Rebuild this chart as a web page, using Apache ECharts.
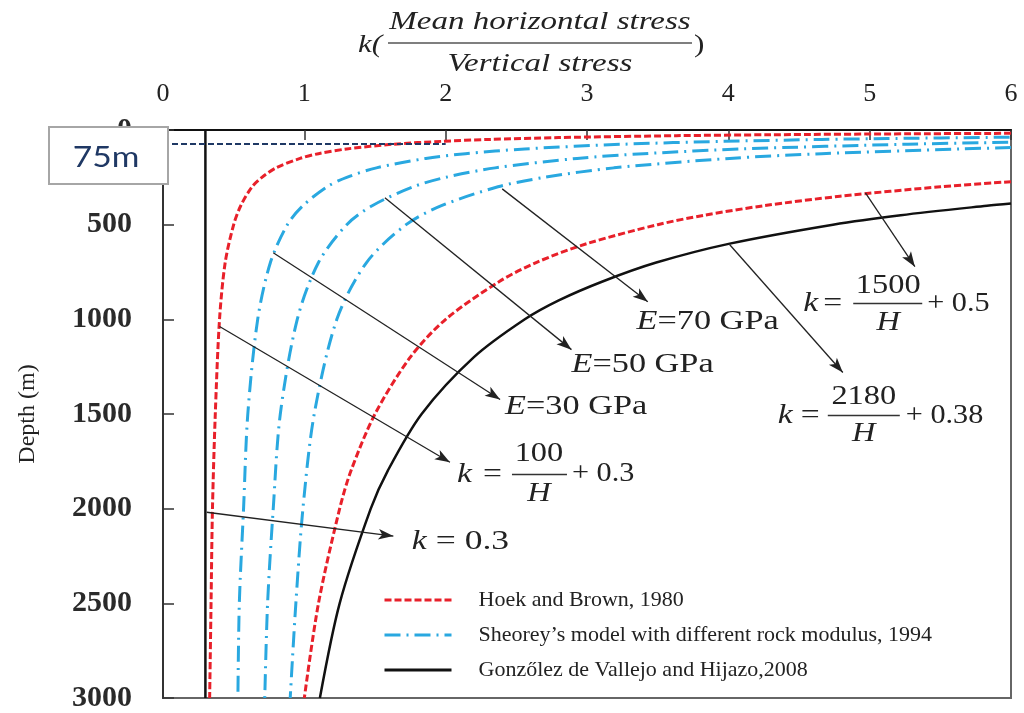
<!DOCTYPE html>
<html><head><meta charset="utf-8">
<script src="https://cdn.jsdelivr.net/npm/echarts@6/dist/echarts.min.js"></script>
<style>html,body{margin:0;padding:0;background:#fff}#c{width:1024px;height:713px}</style>
</head><body><div id="c"></div>
<script>
// ---- data: [k, depth(m)] ----
const hoekLowDepth = [17.5,20,25,30,40,50,60,75,100,125,150,200,250,300,400,500,700,1000,1500,2000,2500,3000];
const hoekLowK     = [6.0,5.3,4.3,3.63,2.8,2.3,1.97,1.63,1.3,1.1,0.97,0.8,0.7,0.63,0.55,0.5,0.44,0.4,0.37,0.35,0.34,0.33];
const hoekUpDepth  = [273,300,350,400,450,500,600,700,800,1000,1200,1500,1800,2000,2500,3000];
const hoekUpK      = [6.0,5.5,4.79,4.25,3.83,3.5,3.0,2.64,2.38,2.0,1.75,1.5,1.33,1.25,1.1,1.0];
const gonzDepth    = [388,400,450,500,600,700,800,900,1000,1200,1500,1800,2000,2500,3000];
const gonzK        = [6.0,5.83,5.22,4.74,4.01,3.49,3.11,2.80,2.56,2.20,1.83,1.59,1.47,1.25,1.11];
const e30Depth     = [38,45,50,60,75,100,125,150,200,250,300,400,500,700,1000,1500,2000,2500,3000];
const e30K         = [5.99,5.13,4.66,3.96,3.26,2.56,2.14,1.86,1.51,1.30,1.16,0.99,0.88,0.76,0.67,0.60,0.57,0.54,0.53];
const e50Depth     = [65,75,100,125,150,200,250,300,400,500,700,1000,1500,2000,2500,3000];
const e50K         = [5.98,5.27,4.10,3.40,2.93,2.35,2.00,1.77,1.48,1.30,1.10,0.95,0.83,0.78,0.74,0.72];
const e70Depth     = [93,100,125,150,200,250,300,400,500,700,1000,1500,2000,2500,3000];
const e70K         = [6.0,5.64,4.66,4.01,3.19,2.70,2.37,1.97,1.72,1.44,1.23,1.07,0.99,0.94,0.90];
const minDepth     = [0,3000];
const minK         = [0.3,0.3];
const markDepth    = 75;       // 75 m reference line
const markK        = [0,2];
const legendNames  = ['Hoek and Brown, 1980', 'Sheorey\u2019s model with different rock modulus, 1994', 'Gonz\u0151lez de Vallejo and Hijazo,2008'];
// annotation arrows: [kFrom, depthFrom, kTo, depthTo]
const arrows = [
  [4.97,332,5.32,722],
  [4.01,606,4.81,1281],
  [2.40,311,3.43,907],
  [1.57,358,2.89,1160],
  [0.78,648,2.385,1423],
  [0.40,1038,2.03,1755],
  [0.31,2019,1.63,2145]
];

const zip = (k, d) => k.map((v, i) => [v, d[i]]);
const RED = '#e8202a', BLUE = '#29a8e0', BLACK = '#111';
const serif = '"Liberation Serif","DejaVu Serif",serif';

const chart = echarts.init(document.getElementById('c'));
const redStyle = {color: RED, width: 3, type: [7, 3]};
const blueStyle = {color: BLUE, width: 3, type: [16, 6, 2, 6]};
function ln(name, data, ls, extra) {
  return Object.assign({type: 'line', name, data, symbol: 'none', showSymbol: false, smooth: 0.3,
    lineStyle: ls, itemStyle: {color: ls.color}, clip: true}, extra || {});
}
chart.setOption({
  animation: false,
  grid: {left: 163, right: 13, top: 130, bottom: 14, show: true, borderColor: '#666', borderWidth: 2},
  xAxis: {type: 'value', position: 'top', min: 0, max: 6, interval: 1,
    axisLine: {show: true, lineStyle: {color: '#111', width: 2}},
    axisTick: {show: true, inside: true, length: 10, lineStyle: {color: '#333', width: 1.5}},
    splitLine: {show: false},
    axisLabel: {fontFamily: serif, fontSize: 26, color: '#222', margin: 23}},
  yAxis: {type: 'value', inverse: true, min: 0, max: 3000, interval: 500,
    name: 'Depth (m)', nameLocation: 'middle', nameGap: 123, nameRotate: 90,
    nameTextStyle: {fontFamily: serif, fontSize: 24, color: '#222'},
    axisLine: {show: true, lineStyle: {color: '#333', width: 2}},
    axisTick: {show: true, inside: true, length: 11, lineStyle: {color: '#333', width: 1.5}},
    splitLine: {show: false},
    axisLabel: {fontFamily: serif, fontSize: 30, fontWeight: 'bold', color: '#2a2a2a', margin: 31,
      formatter: v => String(v)}},
  legend: {data: legendNames, orient: 'vertical', left: 378, top: 584, itemWidth: 67, itemHeight: 20, itemGap: 13,
    itemStyle: {opacity: 0, borderWidth: 0}, lineStyle: {width: 3},
    textStyle: {fontFamily: serif, fontSize: 22, color: '#222', padding: [0, 0, 0, 22]}},
  series: [
    ln(legendNames[0], zip(hoekLowK, hoekLowDepth), redStyle),
    ln(legendNames[0], zip(hoekUpK, hoekUpDepth), redStyle),
    ln(legendNames[1], zip(e30K, e30Depth), blueStyle),
    ln(legendNames[1], zip(e50K, e50Depth), blueStyle),
    ln(legendNames[1], zip(e70K, e70Depth), blueStyle),
    ln(legendNames[2], zip(gonzK, gonzDepth), {color: BLACK, width: 2.5, type: 'solid'}),
    ln('k = 0.3', zip(minK, minDepth), {color: BLACK, width: 2.5, type: 'solid'}, {smooth: false}),
    {type: 'line', name: 'annotations', data: [], silent: true,
      markLine: {silent: true, symbol: ['none', 'arrow'], symbolSize: [8, 15], label: {show: false},
        lineStyle: {color: '#222', width: 1.3, type: 'solid'}, animation: false,
        data: arrows.map(a => [{coord: [a[0], a[1]]}, {coord: [a[2], a[3]]}])}},
    {type: 'line', name: '75m', data: [], silent: true,
      markLine: {silent: true, symbol: ['none', 'none'], label: {show: false},
        lineStyle: {color: '#1f3864', width: 2, type: [6, 3]}, animation: false,
        data: [[{coord: [markK[0], markDepth]}, {coord: [markK[1], markDepth]}]]}}
  ]
});

// ---- text annotations anchored in data coordinates ----
const P = (k, d) => chart.convertToPixel({gridIndex: 0}, [k, d]);
function txt(x, y, text, opt) {
  opt = opt || {};
  return {type: 'text', x, y, z: 50, scaleX: opt.sx || 1.2, style: {text, fill: '#222', fontFamily: serif, fontSize: opt.size || 27,
    fontStyle: opt.italic ? 'italic' : 'normal', align: opt.align || 'left', verticalAlign: 'middle'}};
}
function frac(anchor, num, tail, g) {
  const [x, y] = P(anchor[0], anchor[1]);
  return [
    txt(x, y, 'k', {italic: true, size: 28}),
    txt(x + g.eq, y, '=', {size: 28}),
    txt(x + g.nc, y + g.nd, num, {align: 'center', size: 27}),
    {type: 'line', z: 50, shape: {x1: x + g.b1, y1: y, x2: x + g.b2, y2: y}, style: {stroke: '#333', lineWidth: 1.5}},
    txt(x + g.nc, y + g.hd, 'H', {italic: true, align: 'center', size: 27}),
    txt(x + g.tl, y, tail, {size: 27, sx: 1.12})
  ];
}
function eLabel(anchor, value) {
  const [x, y] = P(anchor[0], anchor[1]);
  return {type: 'text', x, y, z: 50, scaleX: 1.27, style: {
    text: '{i|E}{n|=' + value + ' GPa}', verticalAlign: 'middle',
    rich: {i: {fontFamily: serif, fontStyle: 'italic', fontSize: 27, fill: '#222'},
           n: {fontFamily: serif, fontSize: 27, fill: '#222'}}}};
}
const g = [];
g.push(...frac([4.53, 917], '1500', '+ 0.5', {eq: 20, nc: 85, nd: -18, hd: 19, b1: 50, b2: 119, tl: 124}));
g.push(...frac([4.35, 1508], '2180', '+ 0.38', {eq: 23, nc: 86, nd: -19, hd: 18, b1: 50, b2: 122, tl: 128}));
g.push(...frac([2.08, 1819], '100', '+ 0.3', {eq: 26, nc: 82, nd: -20, hd: 20, b1: 55, b2: 110, tl: 115}));
(function () { const [x, y] = P(1.76, 2172); g.push(txt(x, y, 'k', {italic: true, size: 28}), txt(x + 24, y, '= 0.3', {size: 28, sx: 1.27})); })();
g.push(eLabel([3.35, 1012], '70'), eLabel([2.89, 1239], '50'), eLabel([2.42, 1465], '30'));
// axis title (fraction)
g.push(txt(358, 45, 'k(', {italic: true, size: 26, sx: 1.2}));
g.push(txt(540, 22, 'Mean horizontal stress', {italic: true, align: 'center', size: 25, sx: 1.32}));
g.push({type: 'line', z: 50, shape: {x1: 388, y1: 43, x2: 692, y2: 43}, style: {stroke: '#555', lineWidth: 1.5}});
g.push(txt(540, 64, 'Vertical stress', {italic: true, align: 'center', size: 25, sx: 1.32}));
g.push(txt(694, 45, ')', {size: 26}));
// 75 m box
g.push({type: 'rect', z: 60, shape: {x: 49, y: 127, width: 119, height: 57}, style: {fill: '#fff', stroke: '#a6a6a6', lineWidth: 2}});
g.push({type: 'text', z: 61, x: 106, y: 158, scaleX: 1.2, style: {text: '75m', fill: '#1f3864', fontFamily: 'Lato, "Open Sans", sans-serif', fontSize: 28, align: 'center', verticalAlign: 'middle'}});
chart.setOption({graphic: g});
</script></body></html>
